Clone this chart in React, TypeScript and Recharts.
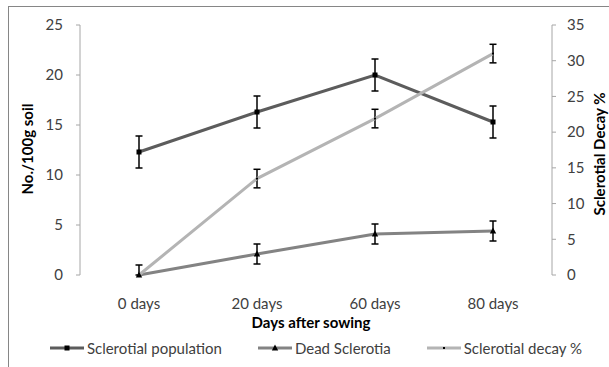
import React from 'react';
import { LineChart, Line, XAxis, YAxis, ErrorBar, Legend } from 'recharts';

const categories = ['0 days', '20 days', '60 days', '80 days'];
const population = [12.3, 16.3, 20.0, 15.3];
const populationErr = [1.6, 1.6, 1.6, 1.6];
const deadSclerotia = [0, 2.1, 4.1, 4.4];
const deadErr: [number, number][] = [[0, 1], [1, 1], [1, 1], [1, 1]];
const decayPct = [0, 13.5, 21.9, 31.0];
const decayErr = [0, 1.3, 1.3, 1.3];
const leftTicks = [0, 5, 10, 15, 20, 25];
const rightTicks = [0, 5, 10, 15, 20, 25, 30, 35];
const boundaryTicks = [0, 1, 2, 3, 4];

const data = categories.map((c, i) => ({
  cat: c,
  pos: i + 0.5,
  pop: population[i],
  popErr: populationErr[i],
  dead: deadSclerotia[i],
  deadErr: deadErr[i],
  decay: decayPct[i],
  decayErr: decayErr[i],
}));

const FONT = 'Lato, "Open Sans", sans-serif';
const COL_POP = '#5c5c5c';
const COL_DEAD = '#838383';
const COL_DECAY = '#b4b4b4';
const AXIS = '#a6a6a6';
const TXT = '#404040';
const FS = 15;

const SquareDot = (p: any) => {
  const { cx, cy } = p;
  if (cx == null || cy == null) return null;
  return <rect key={`s${p.index}`} x={cx - 2.5} y={cy - 2.5} width={5} height={5} fill="#000" />;
};
const TriDot = (p: any) => {
  const { cx, cy } = p;
  if (cx == null || cy == null) return null;
  return <path key={`t${p.index}`} d={`M${cx},${cy - 3.5} L${cx + 3.2},${cy + 2.5} L${cx - 3.2},${cy + 2.5} Z`} fill="#000" />;
};
const SmallDot = (p: any) => {
  const { cx, cy } = p;
  if (cx == null || cy == null) return null;
  return <rect key={`d${p.index}`} x={cx - 1} y={cy - 1} width={2} height={2} fill="#000" />;
};

const legendItems = [
  { name: 'Sclerotial population', color: COL_POP, marker: 'square' },
  { name: 'Dead Sclerotia', color: COL_DEAD, marker: 'tri' },
  { name: 'Sclerotial decay %', color: COL_DECAY, marker: 'dot' },
];

const LegendContent = () => (
  <div style={{ display: 'flex', justifyContent: 'center', gap: 36, paddingLeft: 23, fontFamily: FONT, fontSize: FS, color: TXT, lineHeight: '20px' }}>
    {legendItems.map((it) => (
      <div key={it.name} style={{ display: 'flex', alignItems: 'center' }}>
        <svg width={34} height={20} style={{ marginRight: 3 }}>
          <line x1={0} y1={10} x2={34} y2={10} stroke={it.color} strokeWidth={3} />
          {it.marker === 'square' && <rect x={14.5} y={7.5} width={5} height={5} fill="#000" />}
          {it.marker === 'tri' && <path d="M17,6.5 L20.2,12.5 L13.8,12.5 Z" fill="#000" />}
          {it.marker === 'dot' && <rect x={16} y={9} width={2} height={2} fill="#000" />}
        </svg>
        <span>{it.name}</span>
      </div>
    ))}
  </div>
);

const XTitle = (props: any) => {
  const vb = props.viewBox;
  return (
    <text x={vb.x + vb.width / 2 - 5} y={vb.y + 53} textAnchor="middle" fontFamily={FONT} fontSize={FS} fontWeight="bold" fill="#000">
      Days after sowing
    </text>
  );
};
const LeftTitle = (props: any) => {
  const vb = props.viewBox;
  const x = vb.x + 27;
  const y = vb.y + vb.height / 2 - 1;
  return (
    <text x={x} y={y} transform={`rotate(-90, ${x}, ${y})`} textAnchor="middle" dominantBaseline="central" fontFamily={FONT} fontSize={FS} fontWeight="bold" fill="#000">
      No./100g soil
    </text>
  );
};
const RightTitle = (props: any) => {
  const vb = props.viewBox;
  const x = vb.x + 47;
  const y = vb.y + vb.height / 2 + 4;
  return (
    <text x={x} y={y} transform={`rotate(-90, ${x}, ${y})`} textAnchor="middle" dominantBaseline="central" fontFamily={FONT} fontSize={FS} fontWeight="bold" fill="#000">
      Sclerotial Decay %
    </text>
  );
};

export default function App() {
  return (
    <div style={{ position: 'absolute', left: 0, top: 0, width: 609, height: 367, overflow: 'hidden', background: '#fff' }}>
      <div style={{ position: 'absolute', left: 8, top: 6, width: 700, height: 500, border: '1px solid #868686' }} />
      <div style={{ position: 'absolute', left: 0, top: 0 }}>
        <LineChart width={609} height={367} data={data} margin={{ top: 25, right: 0, bottom: 0, left: 0 }}>
          <XAxis
            xAxisId="grid"
            type="number"
            dataKey="pos"
            domain={[0, 4]}
            ticks={boundaryTicks}
            height={0}
            tickSize={5}
            tickFormatter={() => ''}
            axisLine={{ stroke: AXIS }}
            tickLine={{ stroke: AXIS }}
          />
          <XAxis
            dataKey="cat"
            scale="band"
            height={92}
            axisLine={false}
            tickLine={false}
            tickSize={0}
            tickMargin={23}
            tick={{ fontFamily: FONT, fontSize: FS, fill: TXT }}
            label={{ content: XTitle }}
          />
          <YAxis
            yAxisId="left"
            width={80}
            domain={[0, 25]}
            ticks={leftTicks}
            axisLine={{ stroke: AXIS }}
            tickLine={{ stroke: AXIS }}
            tickSize={4}
            tickMargin={13}
            tick={{ fontFamily: FONT, fontSize: FS, fill: TXT }}
            label={{ content: LeftTitle }}
          />
          <YAxis
            yAxisId="right"
            orientation="right"
            width={57}
            domain={[0, 35]}
            ticks={rightTicks}
            axisLine={{ stroke: AXIS }}
            tickLine={{ stroke: AXIS }}
            tickSize={4}
            tickMargin={11}
            tick={{ fontFamily: FONT, fontSize: FS, fill: TXT }}
            label={{ content: RightTitle }}
          />
          <Legend verticalAlign="middle" align="center" content={LegendContent} wrapperStyle={{ top: 338, left: 0, width: 609 }} />
          <Line yAxisId="left" dataKey="pop" name="Sclerotial population" stroke={COL_POP} strokeWidth={3} dot={SquareDot} activeDot={false} isAnimationActive={false}>
            <ErrorBar dataKey="popErr" direction="y" width={3.5} stroke="#000" strokeWidth={1.5} />
          </Line>
          <Line yAxisId="left" dataKey="dead" name="Dead Sclerotia" stroke={COL_DEAD} strokeWidth={3} dot={TriDot} activeDot={false} isAnimationActive={false}>
            <ErrorBar dataKey="deadErr" direction="y" width={3.5} stroke="#000" strokeWidth={1.5} />
          </Line>
          <Line yAxisId="right" dataKey="decay" name="Sclerotial decay %" stroke={COL_DECAY} strokeWidth={3} dot={SmallDot} activeDot={false} isAnimationActive={false}>
            <ErrorBar dataKey="decayErr" direction="y" width={3.5} stroke="#000" strokeWidth={1.5} />
          </Line>
        </LineChart>
      </div>
    </div>
  );
}
